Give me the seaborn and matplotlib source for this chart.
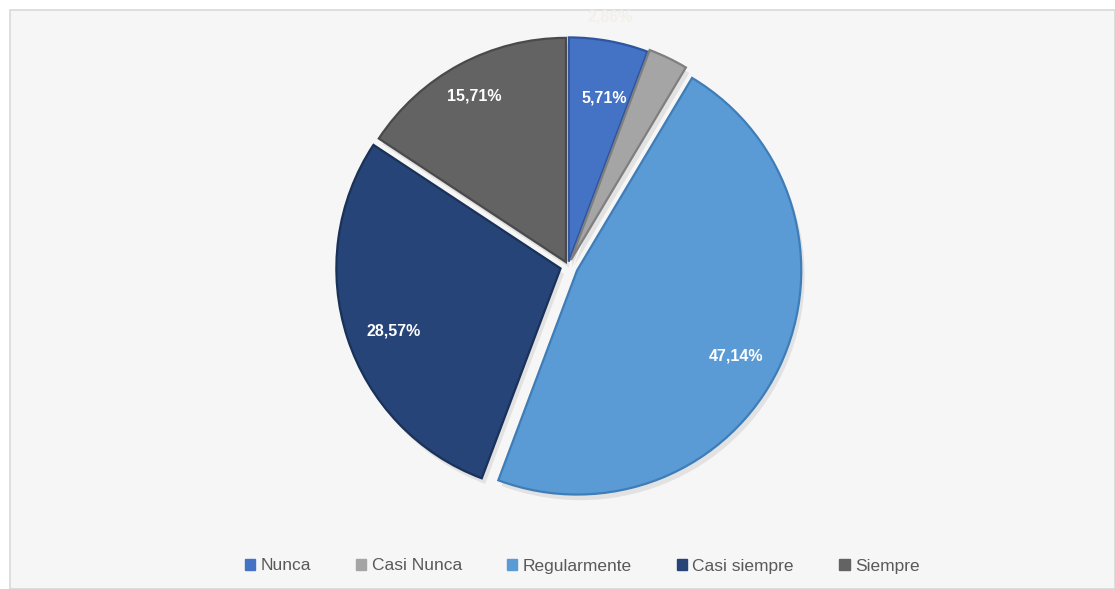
import matplotlib
matplotlib.use("Agg")
import matplotlib.pyplot as plt
import matplotlib.patches as mpatches
import seaborn as sns

categories = ["Nunca", "Casi Nunca", "Regularmente", "Casi siempre", "Siempre"]
values = [5.71, 2.86, 47.14, 28.57, 15.71]
labels = ["5,71%", "2,86%", "47,14%", "28,57%", "15,71%"]
colors = ["#4472C4", "#A5A5A5", "#5B9BD5", "#264478", "#636363"]
edges = ["#2F55A0", "#7F7F7F", "#3F7DB8", "#1A3158", "#4A4A4A"]

sns.set_theme(style="white")
plt.rcParams["font.family"] = ["Liberation Sans Narrow", "Liberation Sans", "DejaVu Sans"]

fig = plt.figure(figsize=(11.15, 5.89), dpi=100, facecolor="white")
bg = mpatches.Rectangle((10 / 1115, 0), 1 - 10 / 1115, 1 - 10 / 589,
                        transform=fig.transFigure, facecolor="#F6F6F6",
                        edgecolor="#D9D9D9", linewidth=1.2, zorder=-10)
fig.patches.append(bg)

size = 538
ax = fig.add_axes([(568 - size / 2) / 1115, (323 - size / 2) / 589, size / 1115, size / 589])
ax.set_facecolor("none")
ax.set_zorder(2)

explode = [0.02, 0.03, 0.045, 0.035, 0.02]
wedges, _ = ax.pie(values, colors=sns.color_palette(colors), startangle=90, counterclock=False,
                   explode=explode, radius=1.0, wedgeprops=dict(linewidth=1.6))
for w, ec in zip(wedges, edges):
    w.set_edgecolor(ec)
    w.set_zorder(2)

# soft shadow
sh, _ = ax.pie(values, colors=["#BDBDBD"] * 5, startangle=90, counterclock=False,
               explode=explode, radius=1.0, wedgeprops=dict(linewidth=0, alpha=0.35))
for s in sh:
    s.set_center((s.center[0] + 0.015, s.center[1] - 0.025))
    s.set_zorder(1)

label_pos = [(0.16, 0.75), (0.19, 1.11), (0.75, -0.40), (-0.78, -0.29), (-0.42, 0.76)]
for (x, y), lab, i in zip(label_pos, labels, range(len(labels))):
    col = "white" if i != 1 else "#F2F0E8"
    ax.text(x, y, lab, ha="center", va="center", color=col, fontsize=11.5,
            fontweight="bold", zorder=5)

ax.set_xlim(-1.2, 1.2)
ax.set_ylim(-1.2, 1.2)
ax.set_aspect("equal")
ax.axis("off")

handles = [mpatches.Patch(facecolor=c, edgecolor=c) for c in colors]
leg = fig.legend(handles, categories, loc="center", bbox_to_anchor=(0.522, 1 - 566 / 589),
                 ncol=5, frameon=False, fontsize=12.5, handlelength=0.6, handleheight=0.6,
                 handletextpad=0.3, columnspacing=2.6)
for t in leg.get_texts():
    t.set_color("#595959")

fig.savefig("out.png", dpi=100, facecolor=fig.get_facecolor())
